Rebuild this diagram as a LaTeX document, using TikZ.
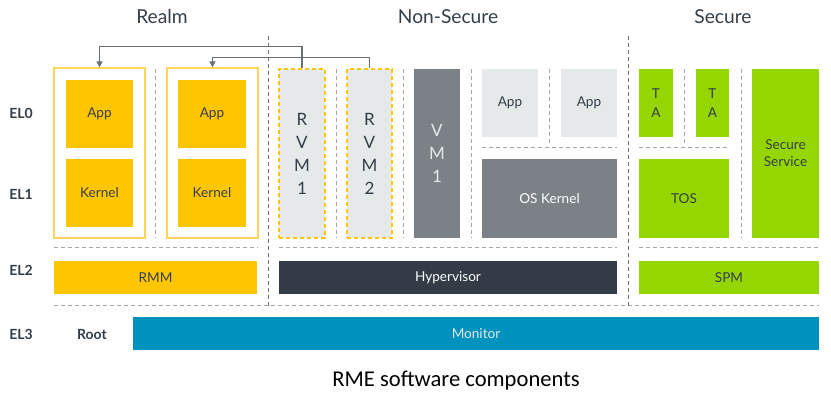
\documentclass[tikz,border=0pt]{standalone}
\usepackage{fontspec}
\setmainfont{Lato}
\newfontfamily\capfont{Carlito}
\usetikzlibrary{fit,arrows.meta}

\definecolor{armyellow}{HTML}{FFC600}
\definecolor{realmedge}{HTML}{FFD65A}
\definecolor{palegrey}{HTML}{E5E9E9}
\definecolor{vmgrey}{HTML}{7B8187}
\definecolor{hypergrey}{HTML}{333C46}
\definecolor{armgreen}{HTML}{95D600}
\definecolor{armblue}{HTML}{0091BD}
\definecolor{textdark}{HTML}{333E48}
\definecolor{dashgrey}{HTML}{A3A7AB}
\definecolor{divgrey}{HTML}{6A6F74}

\begin{document}
\begin{tikzpicture}[x=0.5pt,y=-0.5pt,
    box/.style={inner sep=0pt},
    lbl/.style={align=center,text=textdark,font=\fontsize{6.8}{8.6}\selectfont},
    tall/.style={lbl,font=\fontsize{8.5}{11.5}\selectfont},
    sep/.style={dashgrey,line width=0.5pt,dash pattern=on 2pt off 1.5pt},
    divider/.style={divgrey,line width=0.5pt,dash pattern=on 2pt off 1.5pt},
    link/.style={divgrey,line width=0.6pt,-{Triangle[width=3pt,length=3pt]}}]

  \useasboundingbox (0,0) rectangle (831,400);

  % world headings
  \begin{scope}[every node/.style={text=textdark,font=\fontsize{9.6}{11}\selectfont}]
    \node (realm)  at (162,17) {Realm};
    \node (nonsec) at (448,17) {Non-Secure};
    \node (secure) at (723,17) {Secure};
  \end{scope}

  % exception levels
  \begin{scope}[every node/.style={text=textdark,font=\bfseries\fontsize{7}{8}\selectfont}]
    \node (el0)  at (21,113) {EL0};
    \node (el1)  at (21,194) {EL1};
    \node (el2)  at (21,270) {EL2};
    \node (el3)  at (21,334) {EL3};
    \node (root) at (92,334) {Root};
  \end{scope}

  % realm
  \node[box,draw=realmedge,line width=0.6pt,fit={(54,68) (145,238)}] (realm1) {};
  \node[box,draw=realmedge,line width=0.6pt,fit={(167,68) (258,238)}] (realm2) {};
  \node[box,fill=armyellow,fit={(66,80) (133,148)},label={[lbl]center:App}]     (app1) {};
  \node[box,fill=armyellow,fit={(66,159) (133,227)},label={[lbl]center:Kernel}] (kern1) {};
  \node[box,fill=armyellow,fit={(178,80) (246,148)},label={[lbl]center:App}]    (app2) {};
  \node[box,fill=armyellow,fit={(178,159) (246,227)},label={[lbl]center:Kernel}] (kern2) {};
  \node[box,fill=armyellow,fit={(54,261) (257,294)},label={[lbl]center:RMM}]    (rmm) {};

  % non-secure
  \node[box,fill=palegrey,draw=armyellow,line width=0.6pt,dash pattern=on 2pt off 1.5pt,
        fit={(279,69) (325,238)},label={[tall]center:R\\V\\M\\1}] (rvm1) {};
  \node[box,fill=palegrey,draw=armyellow,line width=0.6pt,dash pattern=on 2pt off 1.5pt,
        fit={(347,69) (392,238)},label={[tall]center:R\\V\\M\\2}] (rvm2) {};
  \node[box,fill=vmgrey,fit={(414,69) (460,238)},label={[tall,text=palegrey]center:V\\M\\1}] (vm1) {};
  \node[box,fill=palegrey,fit={(482,69) (538,137)},label={[lbl]center:App}] (nsapp1) {};
  \node[box,fill=palegrey,fit={(561,69) (617,137)},label={[lbl]center:App}] (nsapp2) {};
  \node[box,fill=vmgrey,fit={(482,159) (617,238)},label={[lbl,text=white]center:OS Kernel}] (oskern) {};
  \node[box,fill=hypergrey,fit={(279,261) (617,294)},label={[lbl,text=white]center:Hypervisor}] (hyp) {};

  % secure
  \node[box,fill=armgreen,fit={(639,69) (673,137)},label={[lbl]center:T\\[0.6pt]A}] (ta1) {};
  \node[box,fill=armgreen,fit={(696,69) (729,137)},label={[lbl]center:T\\[0.6pt]A}] (ta2) {};
  \node[box,fill=armgreen,fit={(639,159) (729,238)},label={[lbl]center:TOS}] (tos) {};
  \node[box,fill=armgreen,fit={(752,69) (819,238)},label={[lbl]center:Secure\\Service}] (secsvc) {};
  \node[box,fill=armgreen,fit={(639,261) (819,294)},label={[lbl]center:SPM}] (spm) {};

  % root
  \node[box,fill=armblue,fit={(133,317) (819,350)},label={[lbl,text=palegrey]center:Monitor}] (monitor) {};

  % separators
  \draw[sep] (155,69) -- (155,238);
  \draw[sep] (336,69) -- (336,238);
  \draw[sep] (403,69) -- (403,238);
  \draw[sep] (471,69) -- (471,238);
  \draw[sep] (549,69) -- (549,143);
  \draw[sep] (482,148) -- (617,148);
  \draw[sep] (684,69) -- (684,143);
  \draw[sep] (639,148) -- (729,148);
  \draw[sep] (741,69) -- (741,238);
  \draw[sep] (54,248) -- (258,248);
  \draw[sep] (279,248) -- (617,248);
  \draw[sep] (639,248) -- (819,248);
  \draw[sep] (54,306) -- (819,306);
  \draw[divider] (268,36) -- (268,306);
  \draw[divider] (628,36) -- (628,306);

  % realm VM links
  \draw[link] (rvm1.north) -- ++(0,-22) -| (realm1.north);
  \draw[link] (rvm2.north) -- ++(0,-11) -| (realm2.north);

  \node[font=\capfont\fontsize{11.3}{13}\selectfont] (caption) at (456,381) {RME software components};

\end{tikzpicture}
\end{document}
